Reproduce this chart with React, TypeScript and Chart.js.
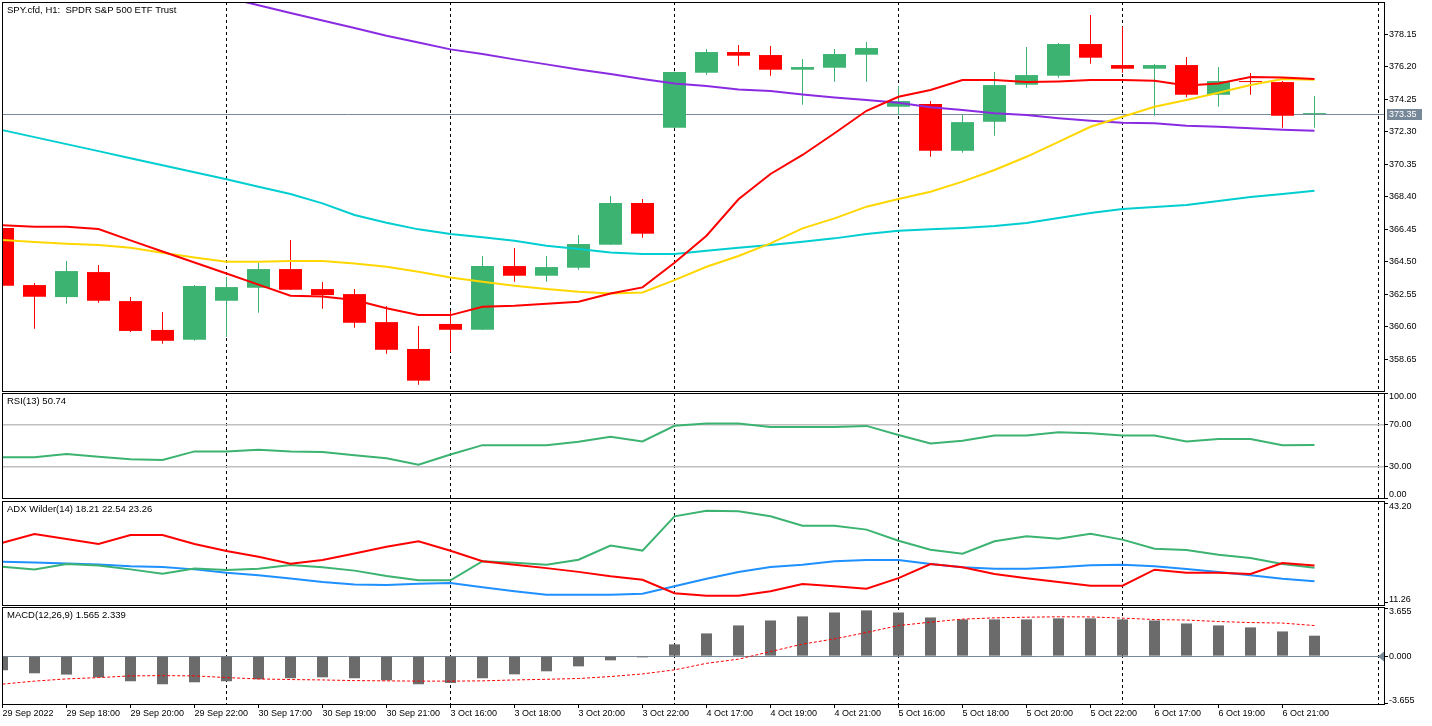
import React, { useEffect, useRef } from "react";
import { Chart, registerables } from "chart.js";

Chart.register(...registerables);

const W = 1432;
const H = 726;
const FONT = "Liberation Sans";
const BULL = "#3cb371";
const BEAR = "#ff0000";
const SLATE = "#778899";

// ---------- price data (H1 bars, index 0..41) ----------
const opens = [366.52, 363.10, 362.38, 363.88, 362.14, 360.41, 359.82, 362.16, 362.94, 364.06, 362.86, 362.56, 360.88, 359.27, 360.77, 360.42, 364.24, 363.66, 364.14, 365.52, 368.02, 372.53, 375.83, 377.07, 376.89, 376.01, 376.13, 376.91, 373.79, 373.95, 371.15, 372.89, 375.11, 375.65, 377.55, 376.29, 376.07, 376.29, 374.51, 375.33, 375.27, 373.35];
const highs = [366.55, 363.22, 364.54, 364.30, 362.38, 361.48, 363.10, 363.58, 364.44, 365.80, 363.28, 362.86, 361.84, 360.65, 361.54, 364.84, 365.32, 364.84, 366.10, 368.44, 368.26, 375.90, 377.25, 377.49, 377.43, 376.65, 377.25, 377.67, 375.03, 374.13, 373.29, 375.87, 377.37, 377.61, 379.29, 378.59, 376.35, 376.77, 376.17, 375.81, 375.33, 374.43];
const lows = [363.00, 360.48, 361.98, 362.04, 360.28, 359.58, 359.76, 359.99, 361.44, 362.80, 361.68, 360.54, 358.98, 357.13, 359.09, 360.40, 363.30, 363.30, 364.02, 365.50, 365.94, 372.50, 375.71, 376.25, 375.65, 373.91, 375.29, 375.29, 373.31, 370.79, 371.03, 372.05, 374.93, 375.53, 376.37, 375.83, 373.25, 374.36, 373.79, 374.51, 372.53, 372.53];
const closes = [363.06, 362.40, 363.94, 362.16, 360.35, 359.76, 363.04, 362.98, 364.06, 362.82, 362.50, 360.84, 359.22, 357.37, 360.42, 364.24, 363.66, 364.18, 365.56, 368.02, 366.18, 375.87, 377.07, 376.85, 376.01, 376.17, 376.95, 377.31, 374.13, 371.15, 372.87, 375.09, 375.69, 377.55, 376.73, 376.07, 376.29, 374.51, 375.33, 375.27, 373.25, 373.35];

// ---------- moving averages ----------
const maRed = [366.68, 366.60, 366.60, 366.46, 365.78, 365.11, 364.45, 363.79, 363.13, 362.46, 362.41, 362.20, 361.71, 361.30, 361.30, 361.80, 361.86, 361.98, 362.10, 362.60, 362.96, 364.44, 366.06, 368.24, 369.76, 370.90, 372.20, 373.55, 374.39, 374.79, 375.39, 375.39, 375.27, 375.31, 375.39, 375.39, 375.35, 375.07, 375.19, 375.57, 375.55, 375.45];
const maGold = [365.80, 365.68, 365.58, 365.50, 365.34, 365.04, 364.76, 364.50, 364.50, 364.54, 364.54, 364.40, 364.20, 363.90, 363.56, 363.30, 363.06, 362.86, 362.70, 362.60, 362.66, 363.40, 364.20, 364.84, 365.60, 366.50, 367.10, 367.80, 368.26, 368.70, 369.30, 370.00, 370.79, 371.69, 372.59, 373.19, 373.79, 374.19, 374.63, 375.09, 375.45, 375.41];
const maCyan = [372.39, 371.97, 371.55, 371.13, 370.70, 370.28, 369.86, 369.44, 369.00, 368.56, 368.00, 367.30, 366.84, 366.44, 366.16, 365.96, 365.76, 365.46, 365.26, 365.06, 364.96, 364.96, 365.16, 365.34, 365.50, 365.70, 365.90, 366.16, 366.36, 366.44, 366.52, 366.64, 366.82, 367.12, 367.42, 367.66, 367.78, 367.90, 368.14, 368.38, 368.56, 368.76];
const maPurple = [383.50, 383.05, 382.60, 382.15, 381.70, 381.24, 380.80, 380.33, 379.88, 379.41, 378.96, 378.51, 378.05, 377.64, 377.23, 376.95, 376.63, 376.33, 376.03, 375.75, 375.45, 375.19, 375.03, 374.83, 374.73, 374.53, 374.35, 374.19, 374.03, 373.76, 373.59, 373.40, 373.29, 373.10, 372.95, 372.83, 372.80, 372.65, 372.59, 372.50, 372.41, 372.35];
const lastPrice = 373.35;

// ---------- RSI(13) ----------
const rsiValues = [38.9, 38.9, 42.1, 39.5, 37.2, 36.4, 44.6, 44.6, 46.2, 44.6, 44.0, 41.0, 38.1, 31.9, 41.6, 50.6, 50.6, 50.6, 53.8, 58.6, 54.2, 69.1, 71.3, 71.3, 68.0, 68.0, 68.0, 69.0, 60.3, 52.2, 54.8, 59.9, 59.9, 62.9, 61.9, 59.9, 59.9, 54.2, 56.4, 56.4, 50.6, 50.74];
const rsiLevels = [30, 70];

// ---------- ADX Wilder(14) ----------
const adxRed = [30.5, 33.3, 31.7, 30.1, 33.0, 33.0, 30.1, 27.9, 26.0, 23.8, 25.0, 27.1, 29.2, 30.96, 27.96, 24.6, 23.5, 22.4, 21.2, 19.8, 18.7, 14.4, 13.6, 13.6, 15.0, 17.3, 16.6, 15.8, 19.2, 23.7, 22.65, 20.5, 19.2, 18.0, 16.8, 16.8, 21.9, 20.9, 20.9, 20.5, 24.0, 23.26];
const adxGreen = [22.85, 22.0, 23.7, 23.2, 22.0, 20.6, 22.3, 21.8, 22.2, 23.4, 22.65, 21.6, 19.9, 18.5, 18.5, 24.6, 24.1, 23.5, 25.1, 29.6, 28.0, 38.95, 40.7, 40.55, 38.95, 35.95, 35.95, 34.7, 31.15, 28.3, 27.0, 30.96, 32.56, 31.8, 33.4, 31.5, 28.6, 28.2, 26.7, 25.6, 23.7, 22.54];
const adxBlue = [24.45, 24.2, 23.9, 23.55, 23.0, 22.75, 22.0, 20.9, 20.1, 19.1, 17.95, 17.2, 17.0, 17.4, 17.65, 16.3, 15.0, 13.9, 13.9, 13.9, 14.2, 16.6, 19.0, 21.15, 22.75, 23.5, 24.6, 25.0, 25.0, 23.7, 22.65, 22.2, 22.2, 22.65, 23.3, 23.5, 23.0, 22.1, 21.15, 20.1, 19.0, 18.21];

// ---------- MACD(12,26,9) ----------
const macdHist = [-1.08, -1.31, -1.41, -1.62, -1.92, -2.15, -2.00, -1.92, -1.77, -1.69, -1.62, -1.69, -1.85, -2.15, -2.05, -1.69, -1.39, -1.16, -0.78, -0.32, -0.09, 0.90, 1.74, 2.35, 2.73, 3.04, 3.34, 3.50, 3.34, 2.96, 2.81, 2.81, 2.81, 2.89, 2.89, 2.81, 2.73, 2.50, 2.35, 2.20, 1.89, 1.565];
const macdSignal = [-2.14, -1.91, -1.74, -1.64, -1.51, -1.49, -1.51, -1.64, -1.74, -1.79, -1.82, -1.87, -1.89, -1.91, -1.91, -1.89, -1.82, -1.77, -1.71, -1.56, -1.36, -1.05, -0.55, -0.23, 0.35, 0.92, 1.32, 1.81, 2.34, 2.60, 2.83, 2.93, 2.98, 3.01, 3.00, 2.91, 2.80, 2.76, 2.65, 2.57, 2.53, 2.339];

// ---------- axes ----------
const xTickIdx = [0, 2, 4, 6, 8, 10, 12, 14, 16, 18, 20, 22, 24, 26, 28, 30, 32, 34, 36, 38, 40];
const xTickLabels = ["29 Sep 2022", "29 Sep 18:00", "29 Sep 20:00", "29 Sep 22:00", "30 Sep 17:00", "30 Sep 19:00", "30 Sep 21:00", "3 Oct 16:00", "3 Oct 18:00", "3 Oct 20:00", "3 Oct 22:00", "4 Oct 17:00", "4 Oct 19:00", "4 Oct 21:00", "5 Oct 16:00", "5 Oct 18:00", "5 Oct 20:00", "5 Oct 22:00", "6 Oct 17:00", "6 Oct 19:00", "6 Oct 21:00"];
const separatorIdx = [7, 14, 21, 28, 35, 43];
const mainTicks = [358.65, 360.6, 362.55, 364.5, 366.45, 368.4, 370.35, 372.3, 374.25, 376.2, 378.15];
const rsiTicks = [0, 30, 70, 100];
const adxTicks = [11.26, 43.2];
const macdTicks = [-3.655, 0, 3.655];

const X_MIN = -0.015625;
const X_MAX = 43.171875;
const AXIS_W = 48;

const pts = (arr: number[]) => arr.map((v, i) => ({ x: i, y: v }));
const candleColor = (i: number) => (closes[i] >= opens[i] ? BULL : BEAR);

function xAxis(show: boolean): any {
  if (!show) {
    return { type: "linear", min: X_MIN, max: X_MAX, offset: false, display: false };
  }
  return {
    type: "linear",
    min: X_MIN,
    max: X_MAX,
    offset: false,
    bounds: "data",
    grid: { drawOnChartArea: false, drawTicks: true, tickLength: 4, color: "#000", offset: false },
    border: { display: false },
    ticks: {
      autoSkip: false,
      maxRotation: 0,
      minRotation: 0,
      align: "start",
      padding: 0,
      color: "#000",
      font: { family: FONT, size: 9 },
      callback: (_v: any, i: number) => xTickLabels[i],
    },
    afterBuildTicks: (s: any) => {
      s.ticks = xTickIdx.map((v) => ({ value: v }));
    },
    afterFit: (s: any) => {
      s.height = 21;
      s.paddingLeft = 0;
      s.paddingRight = 0;
    },
  };
}

function yAxis(min: number, max: number, ticks: number[], decimals: number, edges: boolean): any {
  return {
    type: "linear",
    position: "right",
    min,
    max,
    bounds: "data",
    grid: { drawOnChartArea: false, drawTicks: true, tickLength: 4, color: "#000" },
    border: { display: false },
    ticks: {
      autoSkip: false,
      padding: 1,
      color: "#000",
      font: { family: FONT, size: 9, lineHeight: 0.75 },
      callback: (v: any, i: number, arr: any[]) => {
        const s = Number(v).toFixed(decimals);
        if (edges) {
          if (i === arr.length - 1) return ["", s];
          if (i === 0) return [s, ""];
        }
        return s;
      },
    },
    afterBuildTicks: (s: any) => {
      s.ticks = ticks.map((v) => ({ value: v }));
    },
    afterFit: (s: any) => {
      s.width = AXIS_W;
      s.paddingTop = 0;
      s.paddingBottom = 0;
    },
  };
}

function panePlugin(cfg: { title: string; hLine?: number; priceTag?: boolean; zeroMarker?: boolean }): any {
  return {
    id: "pane",
    beforeDatasetsDraw(chart: any) {
      const { ctx, chartArea: a } = chart;
      const xs = chart.scales.x;
      const ys = chart.scales.y;
      ctx.save();
      ctx.beginPath();
      ctx.rect(a.left, a.top, a.right - a.left, a.bottom - a.top);
      ctx.clip();
      ctx.lineWidth = 1;
      ctx.strokeStyle = "#000";
      ctx.setLineDash([3, 3]);
      separatorIdx.forEach((k) => {
        const px = Math.floor(xs.getPixelForValue(k)) + 0.5;
        ctx.beginPath();
        ctx.moveTo(px, a.top);
        ctx.lineTo(px, a.bottom);
        ctx.stroke();
      });
      if (cfg.hLine !== undefined) {
        ctx.setLineDash([]);
        ctx.strokeStyle = SLATE;
        const py = Math.floor(ys.getPixelForValue(cfg.hLine)) + 0.5;
        ctx.beginPath();
        ctx.moveTo(a.left, py);
        ctx.lineTo(a.right, py);
        ctx.stroke();
      }
      ctx.restore();
    },
    afterDraw(chart: any) {
      const { ctx, chartArea: a } = chart;
      const ys = chart.scales.y;
      ctx.save();
      ctx.strokeStyle = "#000";
      ctx.lineWidth = 1;
      ctx.setLineDash([]);
      ctx.strokeRect(a.left + 0.5, a.top + 0.5, a.right - a.left, a.bottom - a.top);
      ctx.fillStyle = "#000";
      ctx.font = `9.5px "${FONT}"`;
      ctx.textBaseline = "middle";
      ctx.textAlign = "left";
      ctx.fillText(cfg.title, a.left + 5, a.top + 8.5);
      ctx.font = `9px "${FONT}"`;
      if (cfg.priceTag && cfg.hLine !== undefined) {
        const py = Math.floor(ys.getPixelForValue(cfg.hLine));
        ctx.fillStyle = SLATE;
        ctx.fillRect(a.right + 3, py - 5, 35, 11);
        ctx.fillStyle = "#fff";
        ctx.fillText(cfg.hLine.toFixed(2), a.right + 5, py + 0.5);
      }
      if (cfg.zeroMarker && cfg.hLine !== undefined) {
        const py = Math.floor(ys.getPixelForValue(cfg.hLine)) + 0.5;
        ctx.fillStyle = SLATE;
        ctx.beginPath();
        ctx.moveTo(a.right - 6, py);
        ctx.lineTo(a.right, py - 5);
        ctx.lineTo(a.right, py + 5);
        ctx.closePath();
        ctx.fill();
      }
      ctx.restore();
    },
  };
}

function lineDs(data: number[], color: string, order: number, width = 2, dash: number[] = []): any {
  return {
    type: "line",
    data: pts(data),
    borderColor: color,
    backgroundColor: color,
    borderWidth: width,
    borderDash: dash,
    pointRadius: 0,
    tension: 0,
    fill: false,
    clip: 0,
    order,
  };
}

function baseOptions(top: number, bottom: number, x: any, y: any): any {
  return {
    responsive: false,
    maintainAspectRatio: false,
    devicePixelRatio: 1,
    animation: false,
    events: [],
    layout: { padding: { left: 2, right: 0, top, bottom } },
    plugins: { legend: { display: false }, tooltip: { enabled: false }, title: { display: false } },
    scales: { x, y },
  };
}

function makeMain(): any {
  return {
    type: "line",
    data: {
      datasets: [
        lineDs(maRed, "#ff0000", 0),
        lineDs(maGold, "#ffd700", 1),
        lineDs(maCyan, "#00ced1", 2),
        lineDs(maPurple, "#8a2be2", 3),
        {
          type: "bar",
          data: opens.map((o, i) => ({ x: i, y: [o, closes[i]] })),
          backgroundColor: (c: any) => candleColor(c.dataIndex),
          barThickness: 23,
          minBarLength: 1,
          grouped: false,
          borderWidth: 0,
          inflateAmount: 0,
          clip: 0,
          order: 5,
        },
        {
          type: "bar",
          data: lows.map((l, i) => ({ x: i, y: [l, highs[i]] })),
          backgroundColor: (c: any) => candleColor(c.dataIndex),
          barThickness: 1,
          grouped: false,
          borderWidth: 0,
          inflateAmount: 0,
          clip: 0,
          order: 6,
        },
      ],
    },
    options: baseOptions(2, H - 391, xAxis(false), yAxis(356.75, 380.07, mainTicks, 2, false)),
    plugins: [panePlugin({ title: "SPY.cfd, H1:  SPDR S&P 500 ETF Trust", hLine: lastPrice, priceTag: true })],
  };
}

function makeRsi(): any {
  return {
    type: "line",
    data: {
      datasets: [
        lineDs(rsiValues, "#3cb371", 0),
        ...rsiLevels.map((lv) => ({
          ...lineDs([], "#c0c0c0", 2, 1.5),
          data: [
            { x: X_MIN, y: lv },
            { x: X_MAX, y: lv },
          ],
        })),
      ],
    },
    options: baseOptions(393, H - 498, xAxis(false), yAxis(0, 100.5, rsiTicks, 2, true)),
    plugins: [panePlugin({ title: "RSI(13) 50.74" })],
  };
}

function makeAdx(): any {
  return {
    type: "line",
    data: {
      datasets: [lineDs(adxRed, "#ff0000", 0), lineDs(adxGreen, "#3cb371", 1), lineDs(adxBlue, "#1e90ff", 2)],
    },
    options: baseOptions(501, H - 605, xAxis(false), yAxis(10.62, 43.84, adxTicks, 2, true)),
    plugins: [panePlugin({ title: "ADX Wilder(14) 18.21 22.54 23.26" })],
  };
}

function makeMacd(): any {
  return {
    type: "line",
    data: {
      datasets: [
        lineDs(macdSignal, "#ff0000", 0, 1, [3, 2]),
        {
          type: "bar",
          data: pts(macdHist),
          backgroundColor: "#6b6b6b",
          barThickness: 11,
          grouped: false,
          borderWidth: 0,
          inflateAmount: 0,
          clip: 0,
          order: 1,
        },
      ],
    },
    options: baseOptions(607, H - 704 - 21, xAxis(true), yAxis(-3.66, 3.76, macdTicks, 3, true)),
    plugins: [panePlugin({ title: "MACD(12,26,9) 1.565 2.339", hLine: 0, zeroMarker: true })],
  };
}

function ChartCanvas({ make }: { make: () => any }) {
  const ref = useRef<HTMLCanvasElement | null>(null);
  useEffect(() => {
    if (!ref.current) return;
    const chart = new Chart(ref.current, make());
    return () => chart.destroy();
  }, [make]);
  return (
    <canvas
      ref={ref}
      width={W}
      height={H}
      style={{ position: "absolute", left: 0, top: 0, width: W, height: H }}
    />
  );
}

export default function App() {
  return (
    <div
      style={{
        position: "fixed",
        left: 0,
        top: 0,
        width: W,
        height: H,
        background: "#fff",
        overflow: "hidden",
      }}
    >
      <ChartCanvas make={makeMain} />
      <ChartCanvas make={makeRsi} />
      <ChartCanvas make={makeAdx} />
      <ChartCanvas make={makeMacd} />
    </div>
  );
}
